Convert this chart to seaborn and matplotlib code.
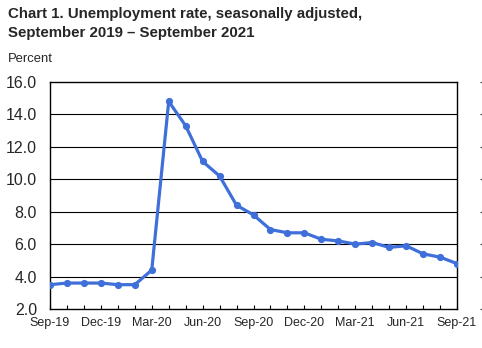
import matplotlib
matplotlib.use("Agg")
import matplotlib.pyplot as plt
import matplotlib.transforms as mtransforms
import seaborn as sns
import pandas as pd

months = ["Sep-19", "Oct-19", "Nov-19", "Dec-19", "Jan-20", "Feb-20", "Mar-20",
          "Apr-20", "May-20", "Jun-20", "Jul-20", "Aug-20", "Sep-20", "Oct-20",
          "Nov-20", "Dec-20", "Jan-21", "Feb-21", "Mar-21", "Apr-21", "May-21",
          "Jun-21", "Jul-21", "Aug-21", "Sep-21"]
rate = [3.5, 3.6, 3.6, 3.6, 3.5, 3.5, 4.4, 14.8, 13.3, 11.1, 10.2, 8.4, 7.8,
        6.9, 6.7, 6.7, 6.3, 6.2, 6.0, 6.1, 5.8, 5.9, 5.4, 5.2, 4.8]
y_ticks = [2.0, 4.0, 6.0, 8.0, 10.0, 12.0, 14.0, 16.0]

df = pd.DataFrame({"idx": range(len(months)), "month": months, "rate": rate})

sns.set_style("white")
plt.rcParams["font.family"] = ["Liberation Sans", "DejaVu Sans"]

fig = plt.figure(figsize=(4.82, 3.48), dpi=100)
ax = fig.add_axes([50 / 482, 1 - 309 / 348, 407 / 482, 227 / 348])

for v in y_ticks[1:-1]:
    ax.axhline(v, color="black", lw=0.8, zorder=1)

sns.lineplot(data=df, x="idx", y="rate", ax=ax, color="#3F6FD9", lw=2.3,
             marker="o", markersize=5.2, markeredgewidth=0, zorder=3)

ax.set_xlim(0, len(months) - 1)
ax.set_ylim(2, 16)
ax.set_yticks(y_ticks)
ax.set_yticklabels([f"{v:.1f}" for v in y_ticks], fontsize=11.5)
ax.set_xticks(range(len(months)))
ax.set_xticklabels([m if i % 3 == 0 else "" for i, m in enumerate(months)],
                   fontsize=9)
ax.tick_params(axis="x", direction="in", length=3, width=0.8, pad=5.5,
               color="black", bottom=True)
ax.tick_params(axis="y", length=0, pad=9.4)
ax.set_xlabel("")
ax.set_ylabel("")

for s in ax.spines.values():
    s.set_visible(True)
    s.set_color("black")
    s.set_linewidth(1.0)

# small tick dashes along the far right edge, level with each grid value
edge = mtransforms.blended_transform_factory(fig.transFigure, ax.transData)
for v in y_ticks:
    ax.plot([479.5 / 482, 482 / 482], [v, v], transform=edge, color="#444444",
            lw=0.9, clip_on=False, solid_capstyle="butt")

fig.text(8 / 482, 1 - 14 / 348, "Chart 1. Unemployment rate, seasonally adjusted,",
         fontsize=10.8, fontweight="bold", va="center", ha="left")
fig.text(8 / 482, 1 - 33 / 348, "September 2019 \u2013 September 2021",
         fontsize=10.8, fontweight="bold", va="center", ha="left")
fig.text(8 / 482, 1 - 59 / 348, "Percent", fontsize=9.4, va="center", ha="left")

fig.savefig("out.png", dpi=100)
